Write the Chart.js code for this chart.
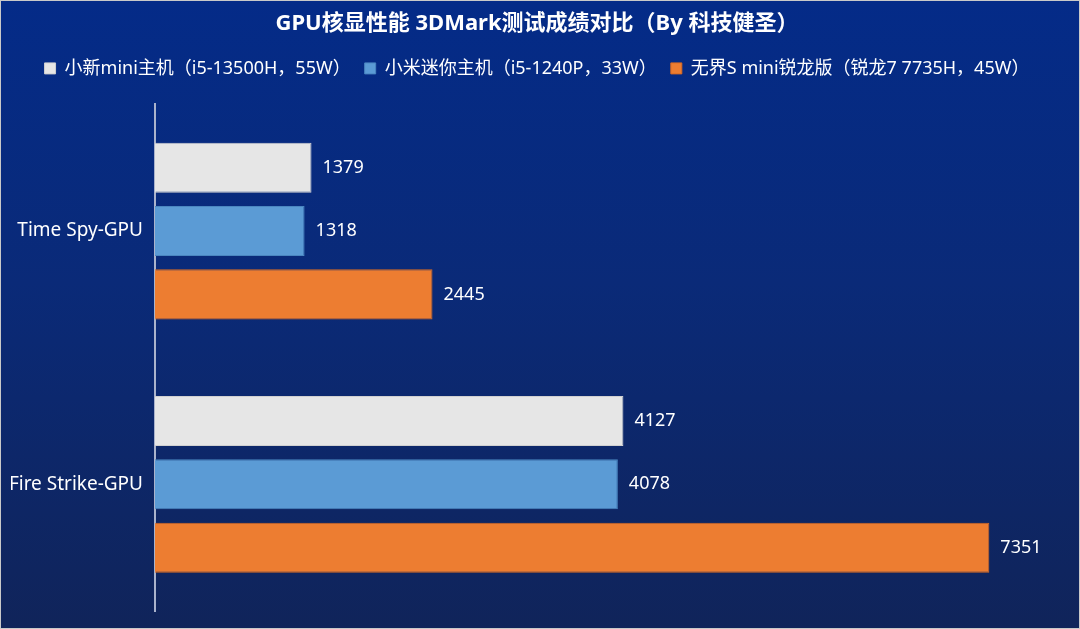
<!DOCTYPE html>
<html>
<head>
<meta charset="utf-8">
<script src="https://cdn.jsdelivr.net/npm/chart.js@4"></script>
<style>
  html, body { margin: 0; padding: 0; background: #fff; }
  .wrap {
    width: 1078px; height: 627px;
    border: 1px solid #c9c9c9;
    background: linear-gradient(180deg, #042b88 0%, #0a2a78 45%, #10245a 100%);
  }
  canvas { display: block; }
</style>
</head>
<body>
<div class="wrap"><canvas id="grafik" width="1078" height="627"></canvas></div>
<script>
const kategori = ["Time Spy-GPU", "Fire Strike-GPU"];
const namaSeri = [
  "小新mini主机（i5-13500H，55W）",
  "小米迷你主机（i5-1240P，33W）",
  "无界S mini锐龙版（锐龙7 7735H，45W）"
];
const skorXiaoxin = [1379, 4127];
const skorXiaomi = [1318, 4078];
const skorWujie = [2445, 7351];
const warna = ["#e6e6e6", "#5b9bd5", "#ed7d31"];

const fontUtama = "'Noto Sans', 'Noto Sans CJK SC', sans-serif";

// angka di ujung batang
const labelNilai = {
  id: "labelNilai",
  afterDatasetsDraw(chart) {
    const ctx = chart.ctx;
    ctx.save();
    ctx.fillStyle = "#ffffff";
    ctx.font = "18px " + fontUtama;
    ctx.textAlign = "left";
    ctx.textBaseline = "middle";
    chart.data.datasets.forEach((ds, i) => {
      chart.getDatasetMeta(i).data.forEach((bar, j) => {
        ctx.fillText(ds.data[j], bar.x + 11, bar.y);
      });
    });
    ctx.restore();
  }
};

const ctx = document.getElementById("grafik");

new Chart(ctx, {
  type: "bar",
  data: {
    labels: kategori,
    datasets: [
      { label: namaSeri[0], data: skorXiaoxin, backgroundColor: warna[0], borderColor: "#d0d0d0", borderWidth: 1 },
      { label: namaSeri[1], data: skorXiaomi, backgroundColor: warna[1], borderColor: "#4a86c0", borderWidth: 1 },
      { label: namaSeri[2], data: skorWujie, backgroundColor: warna[2], borderColor: "#d86a22", borderWidth: 1 }
    ]
  },
  options: {
    indexAxis: "y",
    responsive: false,
    animation: false,
    categoryPercentage: 0.75,
    barPercentage: 0.79,
    layout: { padding: { left: 10, right: 16, top: 8, bottom: 17 } },
    plugins: {
      title: {
        display: true,
        text: "GPU核显性能 3DMark测试成绩对比（By 科技健圣）",
        color: "#ffffff",
        font: { family: fontUtama, size: 22, weight: "bold" },
        padding: { top: 2, bottom: 8 }
      },
      legend: {
        display: true,
        labels: {
          color: "#ffffff",
          font: { family: fontUtama, size: 18 },
          boxWidth: 11,
          boxHeight: 11,
          padding: 14
        }
      },
      tooltip: { enabled: false }
    },
    scales: {
      x: {
        position: "top",
        min: 0,
        max: 8000,
        display: true,
        grid: { display: false, drawTicks: false },
        border: { display: false },
        ticks: { display: false },
        // ruang kosong antara legenda dan area grafik
        afterFit: (scale) => { scale.height = 17; }
      },
      y: {
        // tickLength dipakai sebagai jarak label, padding kecil supaya tidak menambah ruang bawah
        grid: { display: false, drawTicks: true, tickLength: 7 },
        border: { display: true, color: "#aab3cc", width: 2 },
        ticks: {
          color: "#ffffff",
          padding: 5,
          font: { family: fontUtama, size: 19 }
        },
        afterFit: (scale) => { scale.width = 144; }
      }
    }
  },
  plugins: [labelNilai]
});
</script>
</body>
</html>
